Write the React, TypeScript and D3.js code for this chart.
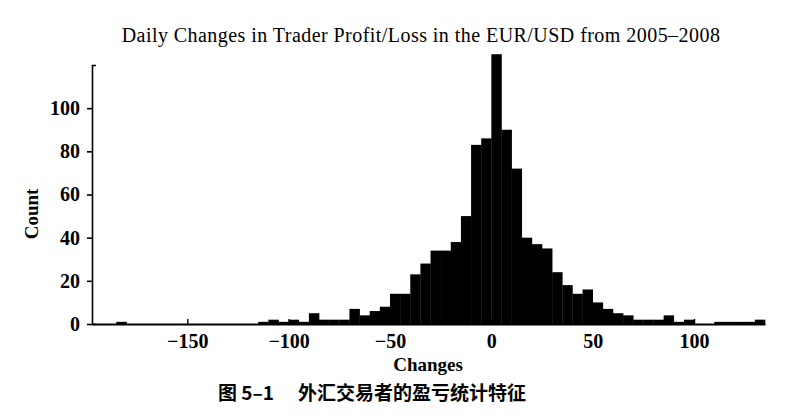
import * as d3 from 'd3';
import { useRef, useEffect } from 'react';

// left edge of each 5-unit bin
const binStarts = d3.range(-185, 135, 5);
const binWidth = 5;
// counts per bin
const counts = [
  1, 0, 0, 0, 0, 0, 0, 0, 0, 0, 0, 0, 0, 0,
  1, 2, 1, 2, 1, 5, 2, 2, 2, 7, 4, 6, 8,
  14, 14, 23, 28, 34, 34, 38, 50, 83, 86,
  125, 90, 72, 40, 37, 35, 24, 18, 14, 16, 10, 7, 5, 4,
  2, 2, 2, 4, 1, 2, 0, 0, 1, 1, 1, 1, 2,
];
const xTicks = [-150, -100, -50, 0, 50, 100];
const yTicks = [0, 20, 40, 60, 80, 100];

const W = 802;
const H = 416;
const serif = '"Liberation Serif", "DejaVu Serif", serif';

const App = () => {
  const svgRef = useRef<SVGSVGElement | null>(null);

  useEffect(() => {
    const svg = d3.select(svgRef.current);
    svg.selectAll('*').remove();

    const x = d3.scaleLinear().domain([-197, 135]).range([92, 765]);
    const y = d3.scaleLinear().domain([0, 120]).range([324, 65]);

    // bars
    svg.append('g')
      .selectAll('rect')
      .data(binStarts.map((b, i) => ({ b, n: counts[i] })))
      .enter()
      .append('rect')
      .attr('x', d => x(d.b))
      .attr('y', d => y(d.n))
      .attr('width', d => x(d.b + binWidth) - x(d.b) + 0.3)
      .attr('height', d => y(0) - y(d.n))
      .attr('fill', '#000');

    // y axis
    const gy = svg.append('g')
      .attr('transform', `translate(${x.range()[0]},0)`)
      .call(d3.axisLeft(y).tickValues(yTicks).tickSize(5).tickSizeOuter(-4).tickPadding(7));
    gy.select('.domain').attr('stroke-width', 1.6);
    gy.selectAll('.tick line').attr('stroke-width', 1.6);
    gy.selectAll('text')
      .attr('font-family', serif)
      .attr('font-size', 20)
      .attr('font-weight', 'bold')
      .attr('fill', '#000');

    // x axis, ticks pointing inward
    const gx = svg.append('g')
      .attr('transform', `translate(0,${y(0)})`)
      .call(d3.axisBottom(x).tickValues(xTicks).tickSizeInner(-5).tickSizeOuter(0).tickPadding(10));
    gx.select('.domain').attr('stroke-width', 2.2);
    gx.selectAll('.tick line').attr('stroke-width', 1.4);
    gx.selectAll('text')
      .attr('font-family', serif)
      .attr('font-size', 20)
      .attr('font-weight', 'bold')
      .attr('fill', '#000');

    // title
    svg.append('text')
      .attr('x', 421)
      .attr('y', 42)
      .attr('text-anchor', 'middle')
      .attr('font-family', serif)
      .attr('font-size', 20)
      .attr('letter-spacing', 0.45)
      .attr('fill', '#000')
      .text('Daily Changes in Trader Profit/Loss in the EUR/USD from 2005–2008');

    // axis labels
    svg.append('text')
      .attr('x', 428)
      .attr('y', 371)
      .attr('text-anchor', 'middle')
      .attr('font-family', serif)
      .attr('font-size', 19)
      .attr('font-weight', 'bold')
      .attr('fill', '#000')
      .text('Changes');

    svg.append('text')
      .attr('transform', 'translate(38,214) rotate(-90)')
      .attr('text-anchor', 'middle')
      .attr('font-family', serif)
      .attr('font-size', 19)
      .attr('font-weight', 'bold')
      .attr('fill', '#000')
      .text('Count');

    // caption
    svg.append('text')
      .attr('x', 218)
      .attr('y', 400)
      .attr('font-family', '"Noto Sans CJK SC", sans-serif')
      .attr('font-size', 19)
      .attr('font-weight', 'bold')
      .attr('fill', '#000')
      .html('<tspan>图 5–1</tspan><tspan x="298">外汇交易者的盈亏统计特征</tspan>');
  }, []);

  return (
    <div style={{ position: 'absolute', left: 0, top: 0, width: W, height: H, background: '#fff' }}>
      <svg ref={svgRef} width={W} height={H} />
    </div>
  );
};

export default App;
